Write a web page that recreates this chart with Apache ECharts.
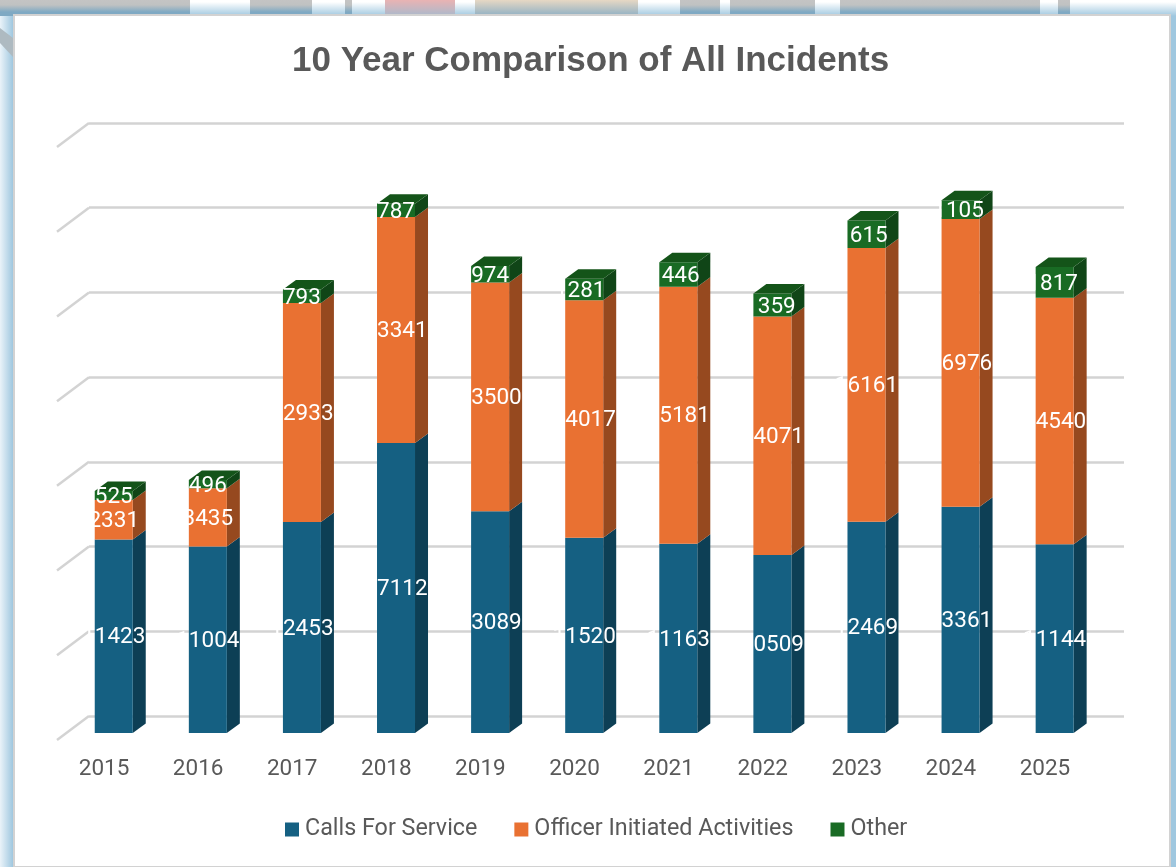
<!DOCTYPE html>
<html>
<head>
<meta charset="utf-8">
<style>
html,body{margin:0;padding:0;width:1176px;height:867px;overflow:hidden;background:#fff}
#frame{position:absolute;left:0;top:0;width:1176px;height:867px;background:linear-gradient(90deg,#eaf3f9 0,#9fc7df 13px,#9fc7df 100%)}
#slash{position:absolute;left:0;top:0;width:13px;height:60px;background:#aebac1;clip-path:polygon(0 28px,13px 38px,13px 57px,0 43px)}
#strip{position:absolute;left:0;top:0;width:1176px;height:16px;background:linear-gradient(180deg,#ffffff 0,#ffffff 2px,#9fc7df 100%)}
.seg{position:absolute;top:0;height:16px}
#panel{position:absolute;left:13px;top:14px;width:1154px;height:850px;background:#fff;border:2px solid #d2d2d2}
#chart{position:absolute;left:0;top:0;width:1176px;height:867px}
</style>
</head>
<body>
<div id="frame"><div id="slash"></div><div id="strip"></div></div>
<div id="panel"></div>
<div id="chart"></div>
<script src="https://cdn.jsdelivr.net/npm/echarts@6/dist/echarts.min.js"></script>
<script>
var years = ['2015','2016','2017','2018','2019','2020','2021','2022','2023','2024','2025'];
var callsForService = [11423,11004,12453,17112,13089,11520,11163,10509,12469,13361,11144];
var officerInitiated = [2331,3435,12933,13341,13500,14017,15181,14071,16161,16976,14540];
var other = [525,496,793,787,974,1281,1446,1359,1615,1105,1817];
var gridTicks = [0,5000,10000,15000,20000,25000,30000,35000];

// label placement of the top segment, separate from the values
var otherLabelShift = [0,0,0,0,0,-4,-4,-2,-4,-2,-2];

// decorative photo showing through the top edge of the frame
var stripGray = [[0,190],[250,312],[345,352],[680,720],[730,815],[840,1040],[1058,1070]];
var stripPhoto = [[385,455,'#e9b3b3','#a9b9cc'],[475,638,'#e6d8c4','#8fb0c4']];
var stripEl = document.getElementById('strip');
stripGray.forEach(function(s){
  var d=document.createElement('div');d.className='seg';
  d.style.left=s[0]+'px';d.style.width=(s[1]-s[0])+'px';
  d.style.background='linear-gradient(180deg,#c4c4c4 0,#c0c2c2 5px,#7fa9c3 12px,#7fa9c3 100%)';
  stripEl.appendChild(d);
});
stripPhoto.forEach(function(s){
  var d=document.createElement('div');d.className='seg';
  d.style.left=s[0]+'px';d.style.width=(s[1]-s[0])+'px';
  d.style.background='linear-gradient(180deg,'+s[2]+' 0,'+s[3]+' 100%)';
  stripEl.appendChild(d);
});

var colors = {
  blue:{front:'#156082',side:'#0d3f55',top:'#10506c'},
  orange:{front:'#E97132',side:'#96491f',top:'#b85a27'},
  green:{front:'#196B24',side:'#104517',top:'#145419'}
};

function stackRender(palette, isTop){
  return function(params, api){
    var i = api.value(0);
    var lo = api.coord([i, api.value(1)]);
    var hi = api.coord([i, api.value(2)]);
    var dx = 9.7, dy = -7, w = 38, ox = 13, oy = 9.5;
    var x0 = lo[0] + dx - w/2, x1 = x0 + w;
    var yb = lo[1] + dy, yt = hi[1] + dy;
    var children = [
      {type:'polygon',shape:{points:[[x1,yb],[x1+ox,yb-oy],[x1+ox,yt-oy],[x1,yt]]},style:{fill:palette.side}},
      {type:'rect',shape:{x:x0,y:yt,width:w,height:yb-yt},style:{fill:palette.front}}
    ];
    if(isTop){
      children.push({type:'polygon',shape:{points:[[x0,yt],[x0+ox,yt-oy],[x1+ox,yt-oy],[x1,yt]]},style:{fill:palette.top}});
    }
    var shift = isTop ? otherLabelShift[i] : 0;
    children.push({type:'text',style:{
      x:x0+w/2+shift,y:(yb+yt)/2+(isTop?2:1.5),text:String(api.value(3)),fill:'#ffffff',
      font:'22.5px Roboto',align:'center',verticalAlign:'middle'
    }});
    return {type:'group',children:children};
  };
}

function stacked(){
  var out=[[],[],[]];
  years.forEach(function(y,i){
    var a=callsForService[i],b=officerInitiated[i],c=other[i];
    out[0].push([i,0,a,a]);
    out[1].push([i,a,a+b,b]);
    out[2].push([i,a+b,a+b+c,c]);
  });
  return out;
}
var st = stacked();

var chart = echarts.init(document.getElementById('chart'),null,{renderer:'canvas'});
chart.setOption({
  animation:false,
  backgroundColor:'transparent',
  title:{text:'10 Year Comparison of All Incidents',left:292,top:44,padding:0,
    textStyle:{color:'#595959',fontFamily:'Liberation Sans',fontWeight:'bold',fontSize:35}},
  legend:{left:285,top:818,padding:0,itemWidth:14,itemHeight:14,itemGap:37,icon:'rect',
    data:['Calls For Service','Officer Initiated Activities','Other'],
    textStyle:{color:'#595959',fontFamily:'Roboto',fontSize:23.3,padding:[0,0,0,1]}},
  grid:[
    {left:57,width:1035,top:147,height:593},
    {left:89,width:1035,top:123,height:593}
  ],
  xAxis:[
    {type:'category',gridIndex:0,data:years,axisLine:{show:false},axisTick:{show:false},
      axisLabel:{color:'#595959',fontFamily:'Roboto',fontSize:22.5,margin:18}},
    {type:'category',gridIndex:1,data:years,show:false}
  ],
  yAxis:[
    {type:'value',gridIndex:0,min:0,max:35000,interval:5000,show:false,splitLine:{show:false}},
    {type:'value',gridIndex:1,min:0,max:35000,interval:5000,
      axisLine:{show:false},axisTick:{show:false},axisLabel:{show:false},
      splitLine:{show:true,lineStyle:{color:'#d3d3d3',width:2.5}}}
  ],
  series:[
    {type:'custom',xAxisIndex:0,yAxisIndex:0,z:1,silent:true,data:gridTicks.map(function(v){return [0,v];}),
      encode:{x:0,y:1},
      renderItem:function(params,api){
        var y=api.coord([0,api.value(1)])[1],x=params.coordSys.x;
        return {type:'line',shape:{x1:x,y1:y,x2:x+32,y2:y-24},style:{stroke:'#d3d3d3',lineWidth:2.5}};
      }},
    {name:'Calls For Service',type:'custom',xAxisIndex:0,yAxisIndex:0,z:2,itemStyle:{color:colors.blue.front},
      data:st[0],encode:{x:0,y:[1,2]},renderItem:stackRender(colors.blue,false)},
    {name:'Officer Initiated Activities',type:'custom',xAxisIndex:0,yAxisIndex:0,z:3,itemStyle:{color:colors.orange.front},
      data:st[1],encode:{x:0,y:[1,2]},renderItem:stackRender(colors.orange,false)},
    {name:'Other',type:'custom',xAxisIndex:0,yAxisIndex:0,z:4,itemStyle:{color:colors.green.front},
      data:st[2],encode:{x:0,y:[1,2]},renderItem:stackRender(colors.green,true)}
  ]
});
</script>
</body>
</html>
